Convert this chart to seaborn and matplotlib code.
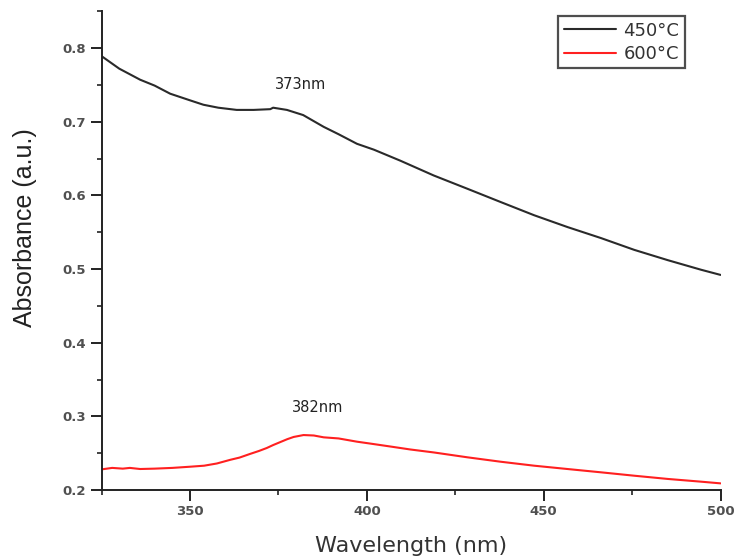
import matplotlib
matplotlib.use("Agg")
import matplotlib.pyplot as plt
from matplotlib.ticker import AutoMinorLocator
import numpy as np
import pandas as pd
import seaborn as sns

# Absorbance spectra of the two annealed samples
wavelength_450 = [325, 330, 335.9, 340, 344.4, 350, 353.8, 358, 363.2, 368, 372.7, 373.5,
                  377.4, 382, 387.8, 392, 397.2, 402, 409.5, 418.9, 428.4, 437.8,
                  447.3, 456.7, 466.2, 475.6, 485.1, 494.5, 500]
absorb_450 = [0.789, 0.772, 0.757, 0.749, 0.738, 0.729, 0.723, 0.719, 0.716, 0.716, 0.717, 0.719,
              0.716, 0.709, 0.693, 0.683, 0.670, 0.662, 0.647, 0.627, 0.609, 0.591,
              0.573, 0.557, 0.542, 0.526, 0.512, 0.499, 0.492]

wavelength_600 = [325, 328, 331, 333, 335.9, 340, 345, 350, 354, 357.6, 361.4, 364, 367,
                  369.5, 371.7, 373.5, 375.5, 377.5, 379.3, 382.1, 385, 387.8, 392, 397.2,
                  401, 406.7, 412.3, 418.9, 428.4, 437.8, 447.3, 456.7, 466.2, 475.6,
                  485.1, 494.5, 500]
absorb_600 = [0.228, 0.230, 0.229, 0.230, 0.2285, 0.229, 0.230, 0.2316, 0.233, 0.236, 0.241,
              0.244, 0.249, 0.253, 0.257, 0.261, 0.265, 0.269, 0.272, 0.2746, 0.274, 0.2715,
              0.270, 0.2656, 0.263, 0.259, 0.255, 0.251, 0.2444, 0.2384, 0.233, 0.2285,
              0.224, 0.2194, 0.215, 0.2113, 0.209]

series_labels = ["450°C", "600°C"]
series_colors = ["#2a2a2a", "#ff2020"]
peak_labels = ["373nm", "382nm"]
peak_positions = [(381.3, 0.751), (386, 0.3126)]

x_ticks = [350, 400, 450, 500]
y_ticks = [0.2, 0.3, 0.4, 0.5, 0.6, 0.7, 0.8]

df = pd.concat([
    pd.DataFrame({"Wavelength": wavelength_450, "Absorbance": absorb_450, "Sample": series_labels[0]}),
    pd.DataFrame({"Wavelength": wavelength_600, "Absorbance": absorb_600, "Sample": series_labels[1]}),
])

sns.set_style("ticks")
plt.rcParams["font.family"] = ["DejaVu Sans"]

fig = plt.figure(figsize=(7.36, 5.6), dpi=100)
ax = fig.add_axes([0.138, 0.125, 0.841, 0.855])

sns.lineplot(data=df, x="Wavelength", y="Absorbance", hue="Sample",
             palette=dict(zip(series_labels, series_colors)), linewidth=1.5,
             sort=True, ax=ax)

ax.set_xlim(325, 500)
ax.set_ylim(0.2, 0.85)
ax.set_xticks(x_ticks)
ax.set_yticks(y_ticks)
ax.xaxis.set_minor_locator(AutoMinorLocator(2))
ax.yaxis.set_minor_locator(AutoMinorLocator(2))
ax.set_xticklabels([str(v) for v in x_ticks])
ax.set_yticklabels([f"{v:.1f}" for v in y_ticks])

for side in ["top", "right"]:
    ax.spines[side].set_visible(False)
for side in ["left", "bottom"]:
    ax.spines[side].set_linewidth(1.4)
    ax.spines[side].set_color("#222222")

ax.tick_params(which="major", direction="out", length=8, width=1.4,
               labelsize=9.5, colors="#222222", labelcolor="#505050", pad=3)
ax.tick_params(which="minor", direction="out", length=3.6, width=1.2, colors="#222222")
for lbl in ax.get_xticklabels() + ax.get_yticklabels():
    lbl.set_fontweight("bold")

ax.set_xlabel("Wavelength (nm)", fontsize=16, color="#333333", labelpad=13)
ax.set_ylabel("Absorbance (a.u.)", fontsize=18, color="#222222",
              family=["Liberation Sans"])
ax.yaxis.set_label_coords(-0.104, 0.547)

for text, (px, py) in zip(peak_labels, peak_positions):
    ax.text(px, py, text, fontsize=10.5, ha="center", va="center", color="#222222",
            bbox=dict(facecolor="white", edgecolor="none", pad=1.5))

leg = ax.legend(loc="upper right", bbox_to_anchor=(0.0, 0.0, 0.942, 0.9896),
                frameon=True, fancybox=False, fontsize=13, handlelength=2.9,
                borderpad=0.3, labelspacing=0.3, handletextpad=0.4, borderaxespad=0)
leg.get_frame().set_edgecolor("#222222")
leg.get_frame().set_linewidth(1.6)
for t in leg.get_texts():
    t.set_color("#333333")

fig.savefig("out.png", dpi=100, facecolor="white")
